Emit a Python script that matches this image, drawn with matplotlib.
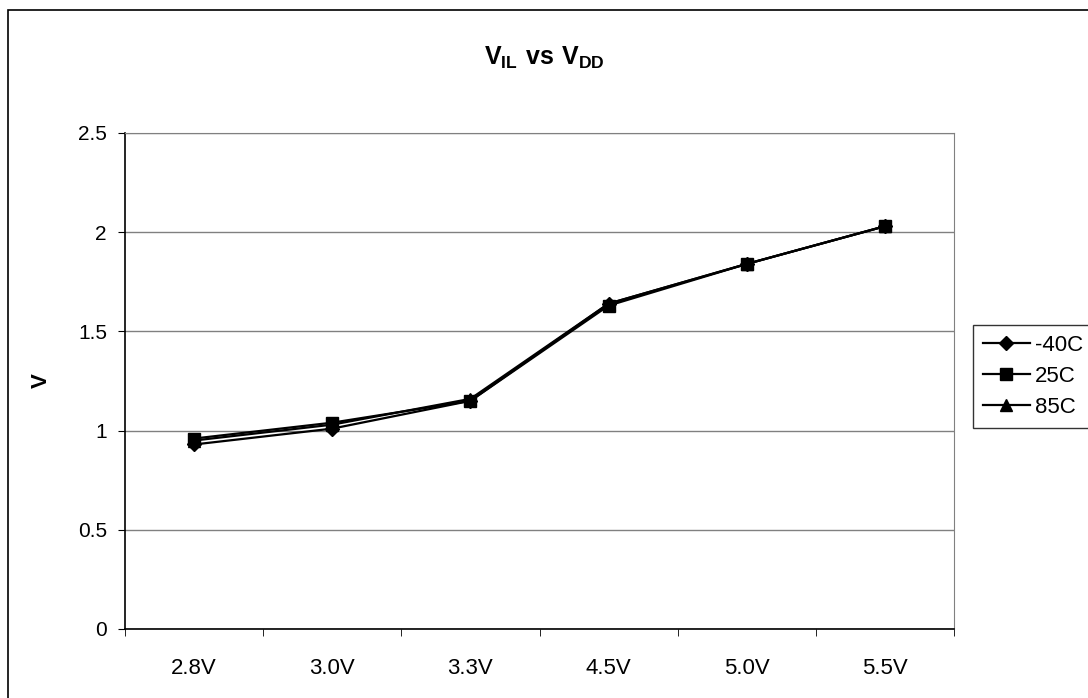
import numpy as np
import matplotlib
matplotlib.use("Agg")
import matplotlib.pyplot as plt
from matplotlib.patches import Rectangle

plt.rcParams['font.family'] = ['Liberation Sans', 'DejaVu Sans']
plt.rcParams['mathtext.fontset'] = 'custom'
plt.rcParams['mathtext.rm'] = 'Liberation Sans'
plt.rcParams['mathtext.bf'] = 'Liberation Sans:bold'

# data
categories = ['2.8V', '3.0V', '3.3V', '4.5V', '5.0V', '5.5V']
v_m40 = [0.93, 1.01, 1.15, 1.64, 1.84, 2.03]
v_25 = [0.96, 1.04, 1.15, 1.63, 1.84, 2.03]
v_85 = [0.95, 1.03, 1.16, 1.64, 1.84, 2.03]
series_labels = ['-40C', '25C', '85C']

fig = plt.figure(figsize=(10.88, 6.98), dpi=100)
ax = fig.add_axes([125 / 1088, 1 - 629 / 698, 829 / 1088, 496 / 698])

# outer chart border
fig.add_artist(Rectangle((8 / 1088, -0.05), 1.1, 1 - 10 / 698 + 0.05,
                         transform=fig.transFigure, fill=False,
                         edgecolor='black', linewidth=1.2))

x = np.arange(len(categories))
ax.plot(x, v_m40, color='black', marker='D', markersize=7, linewidth=1.6, label=series_labels[0])
ax.plot(x, v_25, color='black', marker='s', markersize=8.5, linewidth=1.6, label=series_labels[1])
ax.plot(x, v_85, color='black', marker='^', markersize=8.5, linewidth=1.6, label=series_labels[2])

ax.set_xlim(-0.5, len(categories) - 0.5)
ax.set_ylim(0, 2.5)
ax.set_yticks([0, 0.5, 1, 1.5, 2, 2.5])
ax.set_yticklabels(['0', '0.5', '1', '1.5', '2', '2.5'])
ax.set_xticks(x)
ax.set_xticklabels(categories)
ax.set_xticks(np.arange(len(categories) + 1) - 0.5, minor=True)
ax.tick_params(axis='x', which='major', length=0, labelsize=16, pad=21)
ax.tick_params(axis='x', which='minor', length=5, direction='out')
ax.tick_params(axis='y', length=5, direction='out', labelsize=15, pad=8)
ax.grid(axis='y', color='#808080', linewidth=1)
ax.set_axisbelow(True)
for s in ['top', 'right']:
    ax.spines[s].set_color('#808080')
for s in ['left', 'bottom']:
    ax.spines[s].set_color('black')
    ax.spines[s].set_linewidth(1.2)

ax.set_ylabel('V', fontsize=16, fontweight='bold', labelpad=19)
fig.text(0.5, 1 - 58 / 698, r'$\mathbf{V_{IL}\ vs\ V_{DD}}$', ha='center', va='center', fontsize=18)

leg = fig.legend(loc='upper left', bbox_to_anchor=(973 / 1088, 1 - 325 / 698),
                 frameon=True, fancybox=False, edgecolor='black', fontsize=16,
                 handlelength=2.1, borderpad=0.45, labelspacing=0.45, handletextpad=0.25,
                 borderaxespad=0)
leg.get_frame().set_linewidth(1.0)

fig.savefig('out.png', dpi=100)
